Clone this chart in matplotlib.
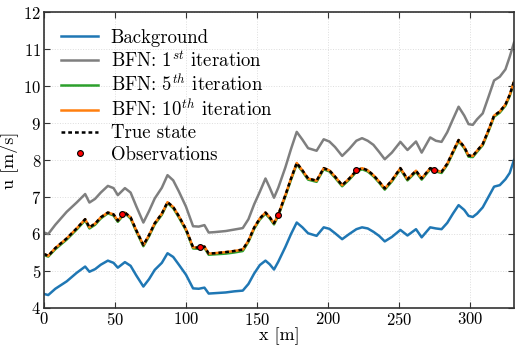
import numpy as np
import matplotlib
matplotlib.use("Agg")
import matplotlib.pyplot as plt

x = [0, 3, 8, 16, 23, 29, 32, 36, 40, 45, 49, 52, 57, 61, 65, 70, 74, 78, 83, 87,
     91, 95, 100, 105, 109, 113, 116, 120, 128, 134, 140, 144, 148, 152, 156, 159,
     162, 165, 170, 174, 178, 182, 186, 192, 197, 201, 205, 210, 215, 220, 224, 228,
     232, 236, 240, 245, 251, 256, 262, 266, 272, 276, 280, 284, 288, 292, 296, 299,
     302, 305, 309, 313, 317, 321, 325, 328, 331]

background = [4.38, 4.35, 4.52, 4.72, 4.95, 5.12, 4.98, 5.05, 5.17, 5.28, 5.22, 5.09,
              5.24, 5.14, 4.88, 4.58, 4.78, 5.03, 5.22, 5.48, 5.38, 5.17, 4.90, 4.53,
              4.52, 4.55, 4.39, 4.40, 4.42, 4.45, 4.47, 4.65, 4.93, 5.16, 5.28, 5.18,
              5.04, 5.25, 5.65, 6.00, 6.31, 6.18, 6.02, 5.95, 6.18, 6.14, 6.02, 5.86,
              6.00, 6.13, 6.18, 6.15, 6.06, 5.95, 5.80, 5.92, 6.11, 5.96, 6.13, 5.91,
              6.18, 6.15, 6.13, 6.30, 6.55, 6.78, 6.65, 6.49, 6.46, 6.55, 6.72, 7.00,
              7.28, 7.32, 7.48, 7.65, 8.00]

bfn1 = [6.04, 6.00, 6.25, 6.60, 6.85, 7.08, 6.85, 6.95, 7.12, 7.30, 7.24, 7.05,
        7.24, 7.12, 6.75, 6.31, 6.62, 6.96, 7.25, 7.59, 7.45, 7.15, 6.74, 6.21,
        6.20, 6.24, 6.04, 6.05, 6.08, 6.12, 6.16, 6.40, 6.80, 7.14, 7.50, 7.25,
        6.98, 7.25, 7.80, 8.30, 8.76, 8.55, 8.32, 8.25, 8.56, 8.50, 8.35, 8.11,
        8.30, 8.52, 8.59, 8.52, 8.41, 8.22, 8.02, 8.20, 8.49, 8.27, 8.50, 8.20,
        8.61, 8.52, 8.49, 8.75, 9.10, 9.44, 9.20, 8.97, 8.95, 9.10, 9.26, 9.70,
        10.15, 10.25, 10.45, 10.79, 11.17]

bfn5 = [5.43, 5.39, 5.59, 5.85, 6.12, 6.37, 6.15, 6.25, 6.42, 6.56, 6.50, 6.33,
        6.56, 6.42, 6.07, 5.67, 5.94, 6.26, 6.52, 6.84, 6.70, 6.45, 6.10, 5.61,
        5.60, 5.63, 5.44, 5.45, 5.47, 5.50, 5.54, 5.79, 6.14, 6.39, 6.55, 6.42,
        6.26, 6.49, 7.02, 7.47, 7.89, 7.69, 7.47, 7.41, 7.75, 7.69, 7.52, 7.29,
        7.47, 7.68, 7.75, 7.69, 7.56, 7.39, 7.20, 7.42, 7.75, 7.45, 7.68, 7.47,
        7.75, 7.69, 7.65, 7.87, 8.19, 8.51, 8.32, 8.09, 8.08, 8.22, 8.40, 8.77,
        9.17, 9.28, 9.47, 9.73, 10.09]

bfn10 = [5.46, 5.41, 5.62, 5.88, 6.15, 6.40, 6.18, 6.28, 6.45, 6.58, 6.53, 6.36,
         6.58, 6.45, 6.10, 5.70, 5.97, 6.29, 6.55, 6.86, 6.73, 6.48, 6.13, 5.64,
         5.63, 5.66, 5.47, 5.48, 5.51, 5.54, 5.58, 5.82, 6.17, 6.42, 6.58, 6.45,
         6.29, 6.52, 7.05, 7.50, 7.92, 7.72, 7.50, 7.44, 7.78, 7.72, 7.55, 7.32,
         7.50, 7.71, 7.78, 7.72, 7.59, 7.42, 7.23, 7.45, 7.78, 7.48, 7.71, 7.50,
         7.78, 7.72, 7.68, 7.90, 8.22, 8.54, 8.35, 8.12, 8.11, 8.25, 8.43, 8.80,
         9.20, 9.31, 9.50, 9.76, 10.12]

true_state = [5.46, 5.41, 5.62, 5.88, 6.15, 6.40, 6.18, 6.28, 6.45, 6.58, 6.53, 6.36,
              6.58, 6.45, 6.10, 5.70, 5.97, 6.29, 6.55, 6.86, 6.73, 6.48, 6.13, 5.64,
              5.63, 5.66, 5.47, 5.48, 5.51, 5.54, 5.58, 5.82, 6.17, 6.42, 6.58, 6.45,
              6.29, 6.52, 7.05, 7.50, 7.92, 7.72, 7.50, 7.44, 7.78, 7.72, 7.55, 7.32,
              7.50, 7.71, 7.78, 7.72, 7.59, 7.42, 7.23, 7.45, 7.78, 7.48, 7.71, 7.50,
              7.78, 7.72, 7.68, 7.90, 8.22, 8.54, 8.35, 8.12, 8.11, 8.25, 8.43, 8.80,
              9.20, 9.31, 9.50, 9.76, 10.12]

obs_x = [55, 110, 165, 220, 275]
obs_y = [6.53, 5.65, 6.52, 7.72, 7.72]

plt.rcParams.update({
    "font.family": "serif",
    "font.serif": ["cmr10"],
    "mathtext.fontset": "cm",
    "axes.formatter.use_mathtext": True,
    "axes.unicode_minus": False,
})

fig = plt.figure(figsize=(5.15, 3.47), dpi=100)
ax = fig.add_axes([0.0854, 0.1124, 0.9126, 0.853])

lw = 1.8
ax.plot(x, background, color="#1f77b4", lw=lw, label="Background")
ax.plot(x, bfn1, color="#7f7f7f", lw=lw, label="BFN: 1$^{st}$ iteration")
ax.plot(x, bfn5, color="#2ca02c", lw=lw, label="BFN: 5$^{th}$ iteration")
ax.plot(x, bfn10, color="#ff7f0e", lw=lw, label="BFN: 10$^{th}$ iteration")
ax.plot(x, true_state, color="black", lw=1.8, ls=(0, (1.5, 1.2)), label="True state")
ax.plot(obs_x, obs_y, ls="none", marker="o", ms=4.2, mfc="red", mec="black", mew=0.8,
        label="Observations", zorder=5)

ax.set_xlim(0, 331)
ax.set_ylim(4, 12)
ax.set_xticks([0, 50, 100, 150, 200, 250, 300])
ax.set_yticks([4, 5, 6, 7, 8, 9, 10, 11, 12])
ax.grid(True, ls=":", color="#dddddd", lw=0.7)
ax.set_axisbelow(True)
ax.tick_params(direction="in", top=True, right=True, labelsize=12, color="#333333",
               length=4, width=0.8, pad=2)
for s in ax.spines.values():
    s.set_color("#333333")
    s.set_linewidth(1.2)
ax.set_xlabel("x [m]", fontsize=13, labelpad=0)
ax.set_ylabel("u [m/s]", fontsize=13, labelpad=4)

leg = ax.legend(loc="upper left", frameon=False, fontsize=13.5, handlelength=2.0,
                labelspacing=0.2, borderaxespad=0.5, handletextpad=0.65)

fig.savefig("out.png", dpi=100)
